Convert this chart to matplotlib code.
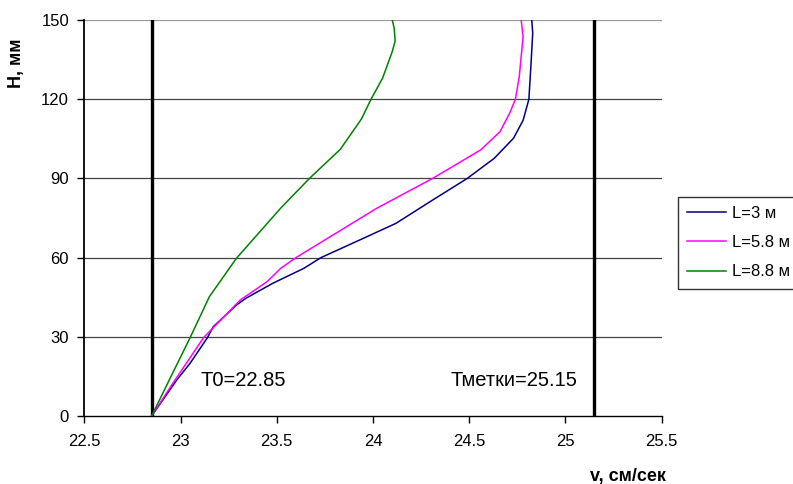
import matplotlib
matplotlib.use("Agg")
import matplotlib.pyplot as plt

plt.rcParams['font.family'] = ['Liberation Sans', 'DejaVu Sans']

# Velocity profiles v(H) for three distances L
h_l3 = [0, 13.6, 20, 29.7, 33.8, 42, 44.6, 50.3, 55.9, 60, 67.3, 73, 81.8, 90,
        97.6, 105.2, 112, 120, 132, 145, 150]
v_l3 = [22.85, 22.98, 23.05, 23.14, 23.17, 23.29, 23.34, 23.48, 23.64, 23.73,
        23.95, 24.12, 24.31, 24.49, 24.63, 24.73, 24.78, 24.81, 24.82, 24.83, 24.825]

h_l58 = [0, 12.4, 29.7, 43.9, 50.9, 55.9, 60, 78.7, 90, 100.8, 107.7, 114.7,
         120, 128.5, 143.7, 150]
v_l58 = [22.85, 22.96, 23.12, 23.31, 23.45, 23.52, 23.60, 24.02, 24.31, 24.56,
         24.66, 24.71, 24.74, 24.76, 24.78, 24.77]

h_l88 = [0, 14.9, 29.7, 45.2, 59.7, 78.7, 90, 101, 112.5, 120, 128, 138, 142,
         147, 150]
v_l88 = [22.85, 22.95, 23.05, 23.15, 23.29, 23.52, 23.67, 23.83, 23.94, 23.99,
         24.05, 24.10, 24.115, 24.11, 24.10]

series_labels = ["L=3 м", "L=5.8 м", "L=8.8 м"]
series_colors = ["#000080", "#FF00FF", "#008000"]

t0 = 22.85
t_mark = 25.15

x_ticks = [22.5, 23, 23.5, 24, 24.5, 25, 25.5]
y_ticks = [0, 30, 60, 90, 120, 150]

fig = plt.figure(figsize=(7.93, 4.84), dpi=100)
ax = fig.add_axes([0.1063, 0.1405, 0.7281, 0.8182])

# horizontal gridlines
for yv in y_ticks[1:]:
    ax.axhline(yv, color="#444444" if yv < 150 else "#999999", lw=0.9, zorder=1)

# reference verticals
ax.axvline(t0, color="black", lw=2.4, zorder=2)
ax.axvline(t_mark, color="black", lw=2.4, zorder=2)

lines = []
for h, v, lab, col in zip([h_l3, h_l58, h_l88], [v_l3, v_l58, v_l88],
                          series_labels, series_colors):
    ln, = ax.plot(v, h, color=col, lw=1.1, label=lab, zorder=3)
    lines.append(ln)

ax.set_xlim(22.5, 25.5)
ax.set_ylim(0, 150)
ax.set_xticks(x_ticks)
ax.set_xticklabels([f"{t:g}" for t in x_ticks])
ax.set_yticks(y_ticks)

for s in ["top", "right"]:
    ax.spines[s].set_visible(False)
ax.spines["left"].set_color("black")
ax.spines["left"].set_linewidth(1.3)
ax.spines["bottom"].set_color("black")
ax.spines["bottom"].set_linewidth(1.0)

ax.tick_params(axis="both", direction="out", length=5, width=1, labelsize=12,
               colors="black")
ax.tick_params(axis="x", pad=8)
ax.tick_params(axis="y", pad=6)

ax.text(23.105, 13.5, "T0=22.85", fontsize=14.5, va="center", ha="left")
ax.text(24.405, 13.5, "Тметки=25.15", fontsize=14.5, va="center", ha="left")

fig.text(0.0208, 0.87, "Н, мм", rotation=90, fontsize=13, fontweight="bold",
         va="center", ha="center")
fig.text(0.792, 0.0145, "v, см/сек", fontsize=13, fontweight="bold",
         va="center", ha="center")

leg = fig.legend(handles=lines, loc="upper left", bbox_to_anchor=(0.855, 0.594),
                 fontsize=12, frameon=True, fancybox=False, handlelength=2.3,
                 labelspacing=0.86, borderpad=0.55, handletextpad=0.4,
                 borderaxespad=0)
leg.get_frame().set_edgecolor("black")
leg.get_frame().set_linewidth(1.0)

fig.savefig("out.png", dpi=100)
